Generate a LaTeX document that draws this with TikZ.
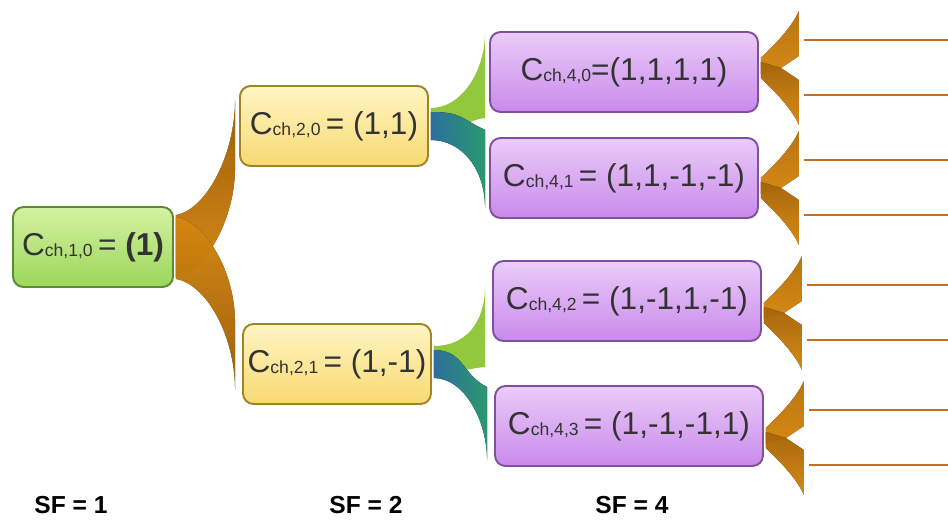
\documentclass[tikz,border=0pt]{standalone}
\usepackage{fontspec}
\setmainfont{Liberation Sans}
\usetikzlibrary{calc}

\definecolor{roottop}{HTML}{D4F2A0}
\definecolor{rootbot}{HTML}{9CD65C}
\definecolor{rootline}{HTML}{5B8A32}
\definecolor{yeltop}{HTML}{FFF5C4}
\definecolor{yelbot}{HTML}{F8DA72}
\definecolor{yelline}{HTML}{A08428}
\definecolor{purtop}{HTML}{EACCF8}
\definecolor{purbot}{HTML}{C98AEC}
\definecolor{purline}{HTML}{80509E}
\definecolor{orangeA}{HTML}{F59B12}
\definecolor{orangeB}{HTML}{B06A08}
\definecolor{limeA}{HTML}{92C83E}
\definecolor{tealA}{HTML}{2D6F9C}
\definecolor{tealB}{HTML}{2A9870}
\definecolor{leafline}{HTML}{C46F22}

\newcommand{\chcode}[1]{C\raisebox{-.1ex}{\fontsize{10}{10}\selectfont ch,#1}}

\tikzset{
  codebox/.style={draw, rounded corners=6pt, line width=1.1pt, minimum height=1.6cm,
    inner sep=2pt, font=\fontsize{18}{20}\selectfont, text=black!80},
  sf1box/.style={codebox, draw=rootline, top color=roottop, bottom color=rootbot, minimum width=3.2cm},
  sf2box/.style={codebox, draw=yelline, top color=yeltop, bottom color=yelbot, minimum width=3.76cm},
  sf4box/.style={codebox, draw=purline, top color=purtop, bottom color=purbot, minimum width=5.36cm},
  upfan/.style={top color=orangeB, bottom color=orangeA, fill opacity=.85},
  downfan/.style={top color=orangeA, bottom color=orangeB, fill opacity=.85},
  limefan/.style={fill=limeA},
  tealfan/.style={left color=tealA, right color=tealB},
  leafup/.style={top color=orangeB!50!orangeA, bottom color=orangeA, fill opacity=.85},
  leafdown/.style={top color=orangeB!80!orangeA, bottom color=orangeA, fill opacity=.85},
  leafline/.style={draw=leafline, line width=1.2pt},
  sflabel/.style={font=\fontsize{14}{16}\selectfont\bfseries}
}

\begin{document}
\begin{tikzpicture}[x=0.02cm, y=-0.02cm]
\useasboundingbox (0,0) rectangle (948,523);

% code tree
\node[sf1box] (c10) at (93,247) {\chcode{1,0}\,= \textbf{(1)}};
\node[sf2box] (c20) at (334,126) {\chcode{2,0}\,= (1,1)};
\node[sf2box] (c21) at (337,364) {\chcode{2,1}\,= (1,-1)};
\node[sf4box] (c40) at (624,72) {\chcode{4,0}=(1,1,1,1)};
\node[sf4box] (c41) at (624,178) {\chcode{4,1}\,= (1,1,-1,-1)};
\node[sf4box] (c42) at (627,301) {\chcode{4,2}\,= (1,-1,1,-1)};
\node[sf4box] (c43) at (629,426) {\chcode{4,3}\,= (1,-1,-1,1)};

% SF = 1 -> SF = 2
\fill[upfan] ($(c10.east)+(2,-32)$) .. controls +(30,-5) and +(0,55) .. ($(c20.west)+(-4,-26)$)
  -- ++(0,68) .. controls +(0,50) and +(30,-5) .. ($(c10.east)+(2,30)$) -- cycle;
\fill[downfan] ($(c10.east)+(2,32)$) .. controls +(30,5) and +(0,-55) .. ($(c21.west)+(-7,26)$)
  -- ++(0,-68) .. controls +(0,-50) and +(30,5) .. ($(c10.east)+(2,-30)$) -- cycle;

% SF = 2 -> SF = 4
\fill[limefan] ($(c20.east)+(2,-18)$) .. controls +(30,0) and +(0,40) .. ($(c40.west)+(-4,-40)$)
  -- ++(0,86) .. controls +(-20,2) and +(25,0) .. ($(c20.east)+(2,9)$) -- cycle;
\fill[tealfan] ($(c20.east)+(2,-14)$) .. controls +(30,0) and +(-25,-12) .. ($(c41.west)+(-4,-48)$)
  -- ++(0,78) .. controls +(0,-40) and +(30,0) .. ($(c20.east)+(2,14)$) -- cycle;
\fill[limefan] ($(c21.east)+(2,-18)$) .. controls +(30,0) and +(0,40) .. ($(c42.west)+(-7,-16)$)
  -- ++(0,82) .. controls +(-20,2) and +(25,0) .. ($(c21.east)+(2,9)$) -- cycle;
\fill[tealfan] ($(c21.east)+(2,-14)$) .. controls +(30,0) and +(-25,-12) .. ($(c43.west)+(-7,-39)$)
  -- ++(0,73) .. controls +(0,-40) and +(30,0) .. ($(c21.east)+(2,14)$) -- cycle;

% SF = 4 -> next level
\foreach \n/\d in {c40/-4,c41/10,c42/12,c43/12}{
  \fill[leafup] ($(\n.east)+(2,\d-10)$) .. controls +(12,-12) and +(-8,18) .. ($(\n.east)+(40,\d-57)$)
    -- ++(0,45) -- ($(\n.east)+(22,\d)$) -- ($(\n.east)+(2,\d+6)$) -- cycle;
  \fill[leafdown] ($(\n.east)+(2,\d+10)$) .. controls +(12,12) and +(-8,-18) .. ($(\n.east)+(40,\d+57)$)
    -- ++(0,-45) -- ($(\n.east)+(22,\d)$) -- ($(\n.east)+(2,\d-6)$) -- cycle;
  \draw[leafline] ($(\n.east)+(45,\d-28)$) -- +(150,0);
  \draw[leafline] ($(\n.east)+(45,\d+27)$) -- +(150,0);
}

\node[sflabel] (sf1) at (71,505) {SF = 1};
\node[sflabel] (sf2) at (366,505) {SF = 2};
\node[sflabel] (sf4) at (632,505) {SF = 4};
\end{tikzpicture}
\end{document}
